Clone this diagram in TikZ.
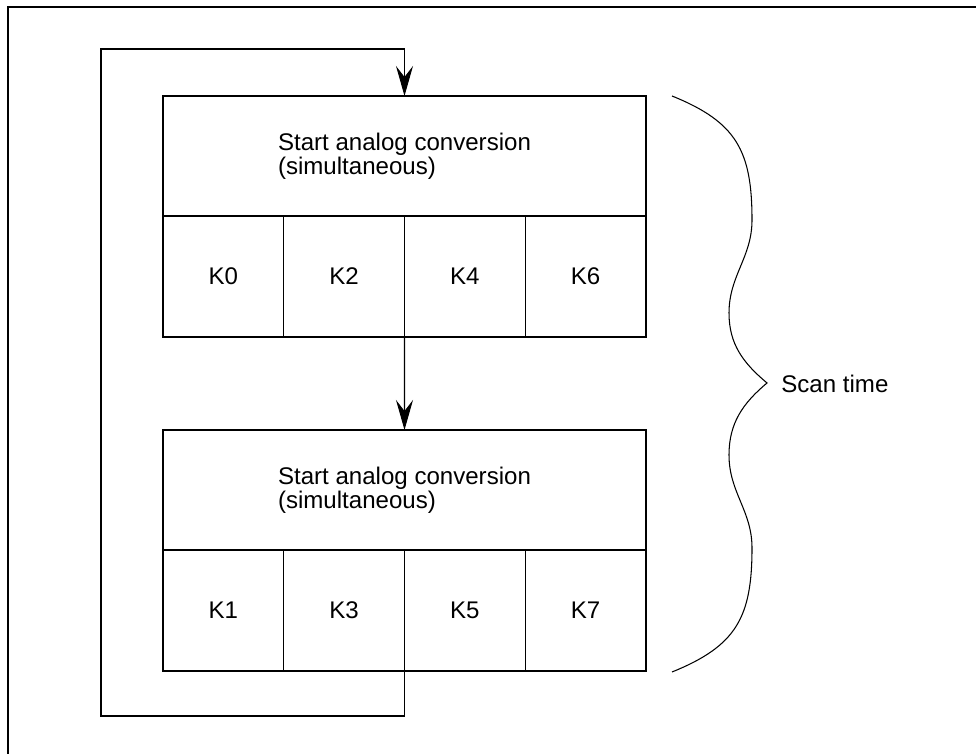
\documentclass[tikz,border=0pt]{standalone}
\usepackage{fontspec}
\setmainfont{Liberation Sans}
\usepackage{tikz}
\usetikzlibrary{arrows.meta, positioning}

\begin{document}
\begin{tikzpicture}[
    font=\fontsize{13.7}{13.5}\selectfont,
    line width=0.6pt,
    kopf/.style={draw, minimum width=9.66cm, minimum height=2.4cm,
                 align=left, inner sep=0pt, outer sep=0pt, anchor=north west},
    kanal/.style={draw, minimum width=2.415cm, minimum height=2.42cm,
                  inner sep=0pt, outer sep=0pt},
    pfeil/.style={-{Stealth[length=6mm, width=3.4mm, inset=2.2mm]}}
  ]
    \useasboundingbox (0,0) rectangle (19.52,15.08);
    % frame, only top and left visible
    \draw (0.16,0) -- (0.16,14.94) -- (19.52,14.94);
    % first scan
    \node[kopf] (start1) at (3.26,13.16)
      {Start analog conversion\\(simultaneous)\hspace*{0.3cm}};
    \node[kanal, anchor=north west] (k0) at (start1.south west) {K0};
    \node[kanal, right=0pt of k0] (k2) {K2};
    \node[kanal, right=0pt of k2] (k4) {K4};
    \node[kanal, right=0pt of k4] (k6) {K6};
    % second scan
    \node[kopf] (start2) at (3.26,6.48)
      {Start analog conversion\\(simultaneous)\hspace*{0.3cm}};
    \node[kanal, anchor=north west] (k1) at (start2.south west) {K1};
    \node[kanal, right=0pt of k1] (k3) {K3};
    \node[kanal, right=0pt of k3] (k5) {K5};
    \node[kanal, right=0pt of k5] (k7) {K7};
    \draw[pfeil] (k2.south east) -- (start2.north);
    % back to the start
    \coordinate (ruecku) at (2.02,0.76);
    \coordinate (rueckoben) at (2.02,14.1);
    \draw[pfeil] (k3.south east) |- (ruecku) -- (rueckoben) -| (start1.north);
    % brace
    \node[anchor=west] (scan) at (15.5,7.4) {Scan time};
    \coordinate (klammero) at (13.44,13.16);
    \coordinate (klammeru) at (13.44,1.64);
    \coordinate (spitze) at (15.34,7.42);
    \draw (klammero) to[out=-22,in=90,looseness=1.2] (15.04,10.68)
      to[out=-90,in=90] (14.58,8.82) to[out=-90,in=140] (spitze)
      to[out=-140,in=90] (14.58,5.98) to[out=-90,in=90] (15.04,4.12)
      to[out=-90,in=22,looseness=1.2] (klammeru);
\end{tikzpicture}
\end{document}
